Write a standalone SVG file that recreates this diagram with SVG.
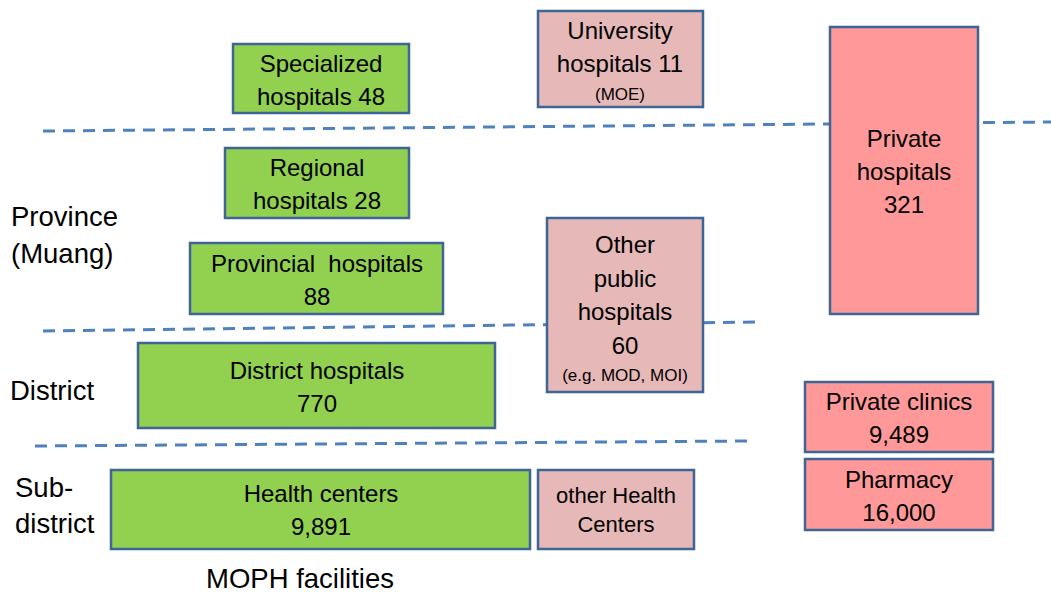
<svg xmlns="http://www.w3.org/2000/svg" width="1051" height="592" viewBox="0 0 1051 592">
<style>
text{font-family:"Liberation Sans",Arial,sans-serif;font-size:24px;fill:#000;}
.c{text-anchor:middle;}
.s{font-size:17px;}
.m{font-size:22px;}
.l{font-size:27.5px;}
.box{stroke:#3E6595;stroke-width:2.5;}
.g{fill:#92D050;}
.p{fill:#E6B9B8;}
.r{fill:#FF9999;}
.d{stroke:#4F81BD;stroke-width:3;stroke-dasharray:12 8;fill:none;}
</style>
<rect width="1051" height="592" fill="#fff"/>
<g id="connectors">
<line class="d" x1="43" y1="131" x2="1051" y2="122"/>
<line class="d" x1="43" y1="331" x2="755" y2="322"/>
<line class="d" x1="35" y1="446" x2="748" y2="441"/>
</g>
<g id="labels">
<text class="l" x="11" y="226">Province</text>
<text class="l" x="11" y="263">(Muang)</text>
<text class="l" x="10" y="400">District</text>
<text class="l" x="15" y="497">Sub-</text>
<text class="l" x="15" y="533">district</text>
<text class="c l" x="300" y="588">MOPH facilities</text>
</g>
<g id="specialized"><rect class="box g" x="233" y="44" width="176" height="69"/>
<text class="c" x="321" y="72">Specialized</text><text class="c" x="321" y="105">hospitals 48</text></g>
<g id="university"><rect class="box p" x="538" y="11" width="165" height="96"/>
<text class="c" x="620" y="39">University</text><text class="c" x="620" y="72">hospitals 11</text><text class="c s" x="620" y="100">(MOE)</text></g>
<g id="private-hospitals"><rect class="box r" x="830" y="27" width="148" height="287"/>
<text class="c" x="904" y="147">Private</text><text class="c" x="904" y="180">hospitals</text><text class="c" x="904" y="213">321</text></g>
<g id="regional"><rect class="box g" x="225" y="148" width="184" height="70"/>
<text class="c" x="317" y="176">Regional</text><text class="c" x="317" y="209">hospitals 28</text></g>
<g id="provincial"><rect class="box g" x="190" y="243" width="253" height="71"/>
<text class="c" x="317" y="272" xml:space="preserve">Provincial  hospitals</text><text class="c" x="317" y="305">88</text></g>
<g id="other-public"><rect class="box p" x="547" y="218" width="156" height="174"/>
<text class="c" x="625" y="253">Other</text><text class="c" x="625" y="287">public</text><text class="c" x="625" y="320">hospitals</text><text class="c" x="625" y="354">60</text><text class="c s" x="625" y="381">(e.g. MOD, MOI)</text></g>
<g id="district"><rect class="box g" x="138" y="343" width="357" height="85"/>
<text class="c" x="317" y="379">District hospitals</text><text class="c" x="317" y="412">770</text></g>
<g id="private-clinics"><rect class="box r" x="805" y="382" width="188" height="70"/>
<text class="c" x="899" y="410">Private clinics</text><text class="c" x="899" y="443">9,489</text></g>
<g id="pharmacy"><rect class="box r" x="805" y="459" width="188" height="71"/>
<text class="c" x="899" y="488">Pharmacy</text><text class="c" x="899" y="521">16,000</text></g>
<g id="health-centers"><rect class="box g" x="111" y="470" width="419" height="79"/>
<text class="c" x="321" y="502">Health centers</text><text class="c" x="321" y="535">9,891</text></g>
<g id="other-health-centers"><rect class="box p" x="538" y="470" width="156" height="79"/>
<text class="c m" x="616" y="503">other Health</text><text class="c m" x="616" y="532">Centers</text></g>
</svg>
